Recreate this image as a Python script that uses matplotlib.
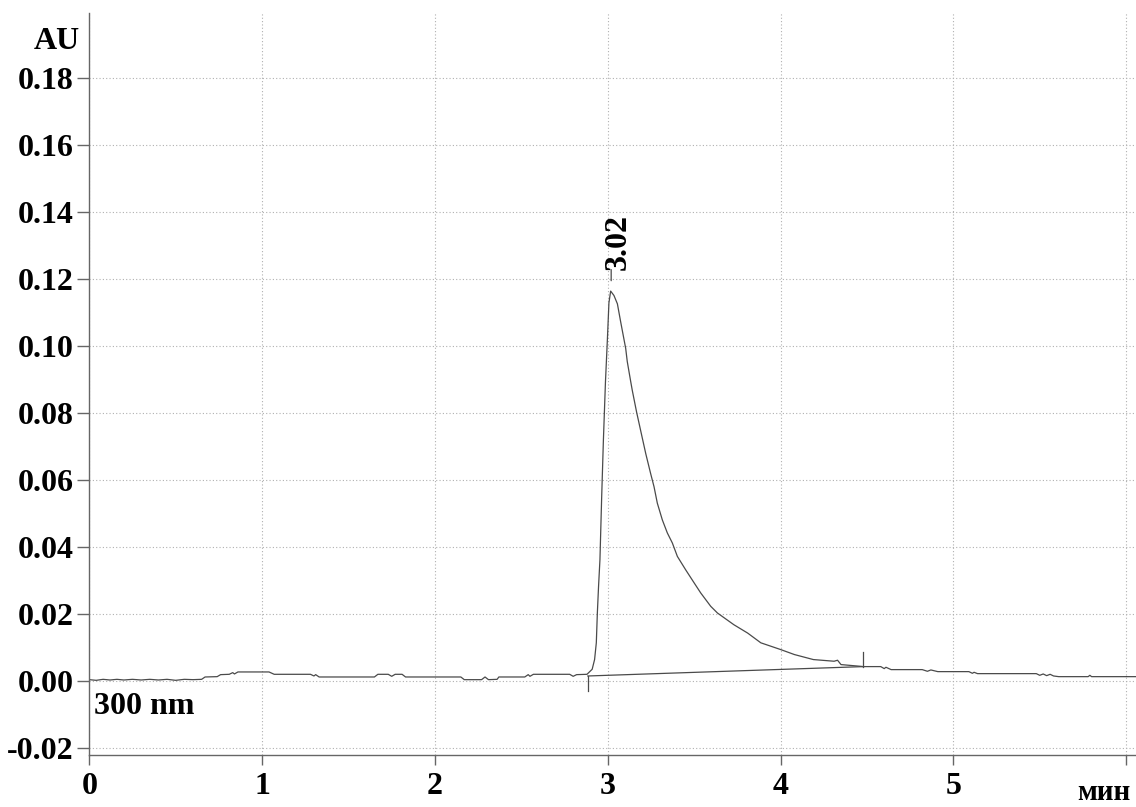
import numpy as np
import matplotlib
matplotlib.use("Agg")
import matplotlib.pyplot as plt

# ----------------------------
# Data (time in min, absorbance in AU)
# ----------------------------
time_min = [
    0.00, 0.04, 0.08, 0.12, 0.16, 0.20, 0.25, 0.30, 0.35, 0.40, 0.45, 0.50,
    0.55, 0.60, 0.65, 0.67, 0.74, 0.76, 0.81, 0.83, 0.84, 0.86, 1.04, 1.07,
    1.28, 1.30, 1.31, 1.33, 1.65, 1.67, 1.73, 1.75, 1.77, 1.81, 1.83, 2.15,
    2.17, 2.27, 2.29, 2.31, 2.36, 2.37, 2.52, 2.54, 2.55, 2.57, 2.78, 2.80,
    2.82, 2.88, 2.91, 2.924, 2.934, 2.94, 2.947, 2.955, 2.965, 2.975, 2.987,
    2.998, 3.007, 3.017, 3.036, 3.056, 3.075, 3.104, 3.113, 3.133, 3.142,
    3.167, 3.19, 3.22, 3.248, 3.268, 3.287, 3.316, 3.345, 3.374, 3.403,
    3.451, 3.50, 3.538, 3.596, 3.635, 3.73, 3.81, 3.886, 4.00, 4.08, 4.19,
    4.31, 4.33, 4.35, 4.46, 4.48, 4.58, 4.60, 4.61, 4.64, 4.82, 4.85, 4.87,
    4.91, 5.09, 5.11, 5.12, 5.14, 5.48, 5.50, 5.52, 5.54, 5.56, 5.58, 5.61,
    5.78, 5.79, 5.80, 6.06,
]
absorbance = [
    0.0005, 0.0003, 0.0006, 0.0004, 0.0006, 0.0004, 0.0006, 0.0004, 0.0006,
    0.0004, 0.0006, 0.0003, 0.0006, 0.0005, 0.0006, 0.0013, 0.0014, 0.0020,
    0.0021, 0.0026, 0.0022, 0.0028, 0.0028, 0.0021, 0.0021, 0.0016, 0.0020,
    0.0013, 0.0013, 0.0021, 0.0021, 0.0015, 0.0021, 0.0021, 0.0013, 0.0013,
    0.0005, 0.0005, 0.0013, 0.0005, 0.0006, 0.0013, 0.0013, 0.0020, 0.0015,
    0.0021, 0.0021, 0.0015, 0.0020, 0.0021, 0.0036, 0.0065, 0.0115, 0.0204,
    0.0284, 0.0363, 0.0550, 0.0720, 0.0895, 0.1020, 0.1130, 0.1165, 0.1152,
    0.1127, 0.1073, 0.0994, 0.0955, 0.0895, 0.0869, 0.0804, 0.0750, 0.0680,
    0.0621, 0.0581, 0.0532, 0.0482, 0.0443, 0.0413, 0.0373, 0.0333, 0.0294,
    0.0264, 0.0224, 0.0204, 0.0169, 0.0144, 0.0115, 0.0095, 0.0080, 0.0065,
    0.0060, 0.0063, 0.0050, 0.0045, 0.0044, 0.0044, 0.0038, 0.0042, 0.0035,
    0.0035, 0.0030, 0.0034, 0.0029, 0.0029, 0.0024, 0.0027, 0.0023, 0.0023,
    0.0018, 0.0022, 0.0017, 0.0021, 0.0016, 0.0014, 0.0014, 0.0018, 0.0014,
    0.0014,
]

# integration baseline of the peak
peak_bounds = [2.885, 4.48]
peak_baseline = [0.0016, 0.0044]
peak_label = "3.02"
peak_time = 3.02
peak_height = 0.1167

x_ticks = [0, 1, 2, 3, 4, 5, 6]
x_tick_labels = ["0", "1", "2", "3", "4", "5", ""]
y_ticks = [-0.02, 0.00, 0.02, 0.04, 0.06, 0.08, 0.10, 0.12, 0.14, 0.16, 0.18]

# ----------------------------
# Plot
# ----------------------------
plt.rcParams["font.family"] = ["Liberation Serif", "DejaVu Serif"]
plt.rcParams["font.weight"] = "bold"
FS = 23

fig = plt.figure(figsize=(11.36, 8.07), dpi=100)
ax = fig.add_axes([0.0786, 0.0644, 0.9214, 0.9198])

trace_color = "#4a4a4a"
ax.plot(time_min, absorbance, color=trace_color, lw=0.9)

# baseline and start/end markers
ax.plot(peak_bounds, peak_baseline, color=trace_color, lw=0.9)
marker_len = 0.0045
ax.plot([peak_bounds[0]] * 2, [peak_baseline[0], peak_baseline[0] - marker_len],
        color=trace_color, lw=0.9)
ax.plot([peak_bounds[1]] * 2, [peak_baseline[1], peak_baseline[1] + marker_len],
        color=trace_color, lw=0.9)

# peak retention time label
ax.annotate("", xy=(peak_time, peak_height), xytext=(0, 15),
            textcoords="offset points",
            arrowprops=dict(arrowstyle="-", shrinkA=0, shrinkB=7,
                            lw=0.9, color=trace_color))
ax.annotate(peak_label, xy=(peak_time, peak_height), xytext=(5, 15),
            textcoords="offset points", rotation=90, ha="center",
            va="bottom", fontsize=FS, fontweight="bold")

ax.set_xlim(0, 6.057)
ax.set_ylim(-0.022, 0.1996)
ax.set_xticks(x_ticks)
ax.set_xticklabels(x_tick_labels)
ax.set_yticks(y_ticks)
ax.set_yticklabels([f"{v:.2f}" for v in y_ticks])

ax.grid(True, color="#b0b0b0", lw=0.8, linestyle=(0, (1, 2)))
ax.set_axisbelow(True)

for side in ["top", "right"]:
    ax.spines[side].set_visible(False)
for side in ["left", "bottom"]:
    ax.spines[side].set_color("#666666")
    ax.spines[side].set_linewidth(1.0)

ax.tick_params(axis="x", length=7, width=1.0, color="#666666",
               labelsize=FS, pad=5)
ax.tick_params(axis="y", length=8.5, width=1.0, color="#666666",
               labelsize=FS, pad=3)

fig.text(80 / 1136, 1 - 49 / 807, "AU", ha="right", va="baseline",
         fontsize=FS, fontweight="bold")
fig.text(94 / 1136, 1 - 714 / 807, "300 nm", ha="left", va="baseline",
         fontsize=FS, fontweight="bold")
fig.text(1130 / 1136, 0.001, "мин", ha="right", va="bottom",
         fontsize=FS - 2, fontweight="bold")

fig.savefig("out.png", dpi=100)
